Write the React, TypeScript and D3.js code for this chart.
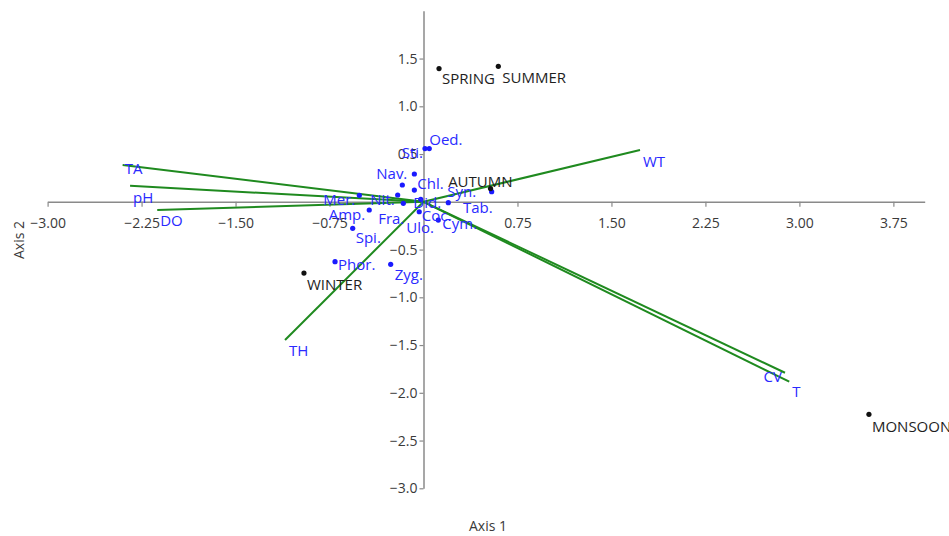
import React, { useEffect, useRef } from 'react';
import * as d3 from 'd3';

// sample scores (seasons)
const seasonNames = ['SPRING', 'SUMMER', 'AUTUMN', 'WINTER', 'MONSOON'];
const seasonX = [0.124, 0.597, 0.535, -0.954, 3.555];
const seasonY = [1.395, 1.419, 0.138, -0.746, -2.225];

// taxa scores
const speciesNames = ['Sti.', 'Oed.', 'Nav.', 'Chl.', 'Did.', 'Nit.', 'Mer.', 'Amp.', 'Fra.', 'Coc.', 'Ulo.', 'Cym.', 'Syn.', 'Tab.', 'Spi.', 'Phor.', 'Zyg.'];
const speciesX = [0.012, 0.046, -0.169, -0.073, -0.073, -0.206, -0.512, -0.433, -0.161, -0.022, -0.034, 0.118, 0.198, 0.544, -0.565, -0.706, -0.262];
const speciesY = [0.557, 0.557, 0.176, 0.291, 0.123, 0.071, 0.068, -0.086, -0.016, 0.026, -0.104, -0.191, -0.009, 0.106, -0.278, -0.627, -0.655];

// environmental vectors
const vectorNames = ['TA', 'pH', 'DO', 'WT', 'TH', 'CV', 'T'];
const vectorX = [-2.401, -2.342, -2.125, 1.728, -1.105, 2.885, 2.919];
const vectorY = [0.385, 0.168, -0.086, 0.542, -1.447, -1.790, -1.884];

const xTicks = [-3.0, -2.25, -1.5, -0.75, 0.75, 1.5, 2.25, 3.0, 3.75];
const yTicks = [-3.0, -2.5, -2.0, -1.5, -1.0, -0.5, 0.5, 1.0, 1.5];

// label placement: [anchor, dx, dy]
const labelPos: Record<string, [string, number, number]> = {
  SPRING: ['start', 3, 9], SUMMER: ['start', 4, 11], AUTUMN: ['end', 22, -8],
  WINTER: ['start', 3, 11], MONSOON: ['start', 3, 12],
  'Sti.': ['end', -2, 3], 'Oed.': ['start', 0, -10], 'Nav.': ['end', 5, -12],
  'Chl.': ['start', 3, 9], 'Did.': ['start', -1, 12], 'Nit.': ['end', -3, 4],
  'Mer.': ['end', -4, 4], 'Amp.': ['end', -4, 4], 'Fra.': ['end', 1, 15],
  'Coc.': ['start', 1, 16], 'Ulo.': ['start', -13, 15], 'Cym.': ['start', 4, 3],
  'Syn.': ['start', -1, -12], 'Tab.': ['end', 1, 15], 'Spi.': ['start', 3, 9],
  'Phor.': ['start', 3, 2], 'Zyg.': ['start', 4, 10],
  TA: ['start', 2, 3], pH: ['start', 3, 11], DO: ['start', 3, 10], WT: ['start', 3, 11],
  TH: ['start', 4, 10], CV: ['end', -3, 3], T: ['start', 3, 9],
};

const FONT = "'Open Sans', 'Noto Sans', sans-serif";

const Biplot = () => {
  const svgRef = useRef<SVGSVGElement>(null);

  useEffect(() => {
    const svg = d3.select(svgRef.current);
    const width = 949;
    const height = 536;

    const x = d3.scaleLinear().domain([-3, 4]).range([47.6, 924.7]);
    const y = d3.scaleLinear().domain([-3, 2]).range([488.3, 10.8]);

    const g = svg.append('g');

    // x axis through y = 0
    const xa = g.append('g')
      .attr('transform', `translate(0,${y(0)})`)
      .call(d3.axisBottom(x).tickValues(xTicks).tickSize(5).tickSizeOuter(0).tickPadding(11).tickFormat(d3.format('.2f')));
    // y axis through x = 0
    const ya = g.append('g')
      .attr('transform', `translate(${x(0)},0)`)
      .call(d3.axisLeft(y).tickValues(yTicks).tickSize(4).tickSizeOuter(0).tickPadding(2).tickFormat(d3.format('.1f')));

    [xa, ya].forEach((a) => {
      a.select('.domain').attr('stroke', '#8a8a8a').attr('stroke-width', 1.5);
      a.selectAll('.tick line').attr('stroke', '#8a8a8a').attr('stroke-width', 1.2);
      a.selectAll('.tick text').attr('fill', '#3a3a3a').style('font-family', FONT).style('font-size', '14px');
    });

    // axis titles
    g.append('text')
      .attr('x', 488).attr('y', 525)
      .attr('text-anchor', 'middle').attr('dominant-baseline', 'central')
      .attr('fill', '#3a3a3a').style('font-family', FONT).style('font-size', '14px')
      .text('Axis 1');
    g.append('text')
      .attr('transform', 'translate(18,240) rotate(-90)')
      .attr('text-anchor', 'middle').attr('dominant-baseline', 'central')
      .attr('fill', '#3a3a3a').style('font-family', FONT).style('font-size', '14px')
      .text('Axis 2');

    const label = (sel: any, name: string, px: number, py: number, color: string) => {
      const [anchor, dx, dy] = labelPos[name];
      sel.append('text')
        .attr('x', px + dx).attr('y', py + dy)
        .attr('text-anchor', anchor).attr('dominant-baseline', 'central')
        .attr('fill', color).style('font-family', FONT).style('font-size', '15px')
        .text(name);
    };

    // vectors
    vectorNames.forEach((n, i) => {
      g.append('line')
        .attr('x1', x(0)).attr('y1', y(0))
        .attr('x2', x(vectorX[i])).attr('y2', y(vectorY[i]))
        .attr('stroke', '#1f8a1f').attr('stroke-width', 2);
    });

    // species points
    speciesNames.forEach((n, i) => {
      g.append('circle')
        .attr('cx', x(speciesX[i])).attr('cy', y(speciesY[i]))
        .attr('r', 2.6).attr('fill', '#1a1aff');
    });
    // season points
    seasonNames.forEach((n, i) => {
      g.append('circle')
        .attr('cx', x(seasonX[i])).attr('cy', y(seasonY[i]))
        .attr('r', 2.6).attr('fill', '#111');
    });

    vectorNames.forEach((n, i) => label(g, n, x(vectorX[i]), y(vectorY[i]), '#2a2aff'));
    speciesNames.forEach((n, i) => label(g, n, x(speciesX[i]), y(speciesY[i]), '#2a2aff'));
    seasonNames.forEach((n, i) => label(g, n, x(seasonX[i]), y(seasonY[i]), '#1e1e1e'));

    svg.attr('width', width).attr('height', height);

    return () => {
      svg.selectAll('*').remove();
    };
  }, []);

  return <svg ref={svgRef} style={{ position: 'absolute', left: 0, top: 0, background: '#fff' }}></svg>;
};

export default function App() {
  return <Biplot />;
}
